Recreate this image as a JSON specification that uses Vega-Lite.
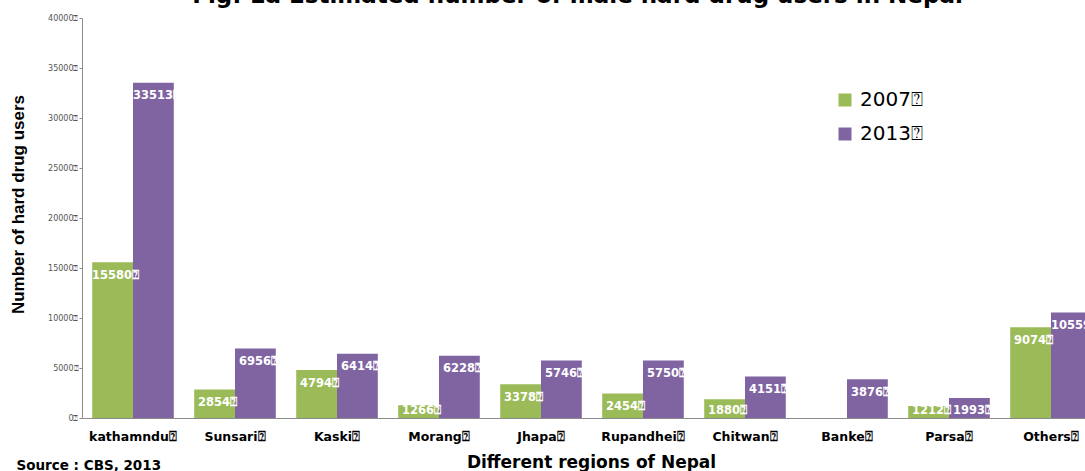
{
  "$schema": "https://vega.github.io/schema/vega-lite/v6.json",
  "autosize": {"type": "none"},
  "padding": {"left": 82, "top": 18, "right": 0, "bottom": 53},
  "width": 1003,
  "height": 400,
  "background": "white",
  "config": {"view": {"stroke": null}},
  "title": {"text": "Fig: 1a Estimated number of male hard drug users in Nepal", "frame": "group", "anchor": "middle", "baseline": "alphabetic", "offset": 8, "dy": 20, "fontSize": 23, "font": "DejaVu Sans", "fontWeight": "bold", "color": "black", "dx": -6},
  "data": {"values": [
    {"region": "kathamndu", "year": "2007", "users": 15580},
    {"region": "kathamndu", "year": "2013", "users": 33513},
    {"region": "Sunsari", "year": "2007", "users": 2854},
    {"region": "Sunsari", "year": "2013", "users": 6956},
    {"region": "Kaski", "year": "2007", "users": 4794},
    {"region": "Kaski", "year": "2013", "users": 6414},
    {"region": "Morang", "year": "2007", "users": 1266},
    {"region": "Morang", "year": "2013", "users": 6228},
    {"region": "Jhapa", "year": "2007", "users": 3378},
    {"region": "Jhapa", "year": "2013", "users": 5746},
    {"region": "Rupandhei", "year": "2007", "users": 2454},
    {"region": "Rupandhei", "year": "2013", "users": 5750},
    {"region": "Chitwan", "year": "2007", "users": 1880},
    {"region": "Chitwan", "year": "2013", "users": 4151},
    {"region": "Banke", "year": "2013", "users": 3876},
    {"region": "Parsa", "year": "2007", "users": 1212},
    {"region": "Parsa", "year": "2013", "users": 1993},
    {"region": "Others", "year": "2007", "users": 9074},
    {"region": "Others", "year": "2013", "users": 10559}
  ]},
  "transform": [
    {"calculate": "format(datum.users, 'd') + '\u2370'", "as": "label"},
    {"calculate": "max(datum.users - 1350, 700)", "as": "labelPos"}
  ],
  "resolve": {"axis": {"x": "independent"}},
  "layer": [
    {
      "mark": {"type": "bar"},
      "encoding": {
        "x": {"field": "region", "type": "nominal",
          "sort": ["kathamndu", "Sunsari", "Kaski", "Morang", "Jhapa", "Rupandhei", "Chitwan", "Banke", "Parsa", "Others"],
          "scale": {"range": [0, 1020], "paddingInner": 0.2, "paddingOuter": 0.1},
          "axis": {"title": "Different regions of Nepal", "titleFont": "DejaVu Sans", "titleFontSize": 17, "titleFontWeight": "bold", "titleColor": "black", "titleX": 509, "titleY": 49, "titleBaseline": "alphabetic",
            "labelExpr": "datum.label + '\u2370'", "labelFont": "DejaVu Sans", "labelFontSize": 12.5, "labelFontWeight": "bold", "labelColor": "black", "labelPadding": 12, "ticks": false, "domainColor": "#8c8c8c", "labelAngle": 0}},
        "xOffset": {"field": "year", "type": "nominal", "sort": ["2007", "2013"]},
        "y": {"field": "users", "type": "quantitative", "scale": {"domain": [0, 40000]},
          "axis": {"title": "Number of hard drug users", "titleFont": "Liberation Sans", "titleFontSize": 17, "titleFontWeight": "bold", "titleColor": "black", "titleX": -64, "titleY": 186, "titleBaseline": "middle",
            "values": [0, 5000, 10000, 15000, 20000, 25000, 30000, 35000, 40000], "format": "d", "labelExpr": "datum.label + '\u2370'", "labelFont": "DejaVu Sans", "labelFontSize": 8, "labelColor": "#555555", "tickColor": "#8c8c8c", "tickSize": 3, "labelPadding": 1, "domainColor": "#8c8c8c", "grid": false}},
        "color": {"field": "year", "type": "nominal",
          "scale": {"domain": ["2007", "2013"], "range": ["#9BBB59", "#8064A2"]},
          "legend": {"title": null, "orient": "none", "legendX": 753, "legendY": 72, "symbolType": "square", "symbolSize": 169, "symbolStrokeWidth": 0, "labelFont": "DejaVu Sans", "labelFontSize": 20, "labelColor": "black", "labelExpr": "datum.label + '\u2370'", "labelOffset": 5, "rowPadding": 14, "padding": 0}}
      }
    },
    {
      "mark": {"type": "text", "color": "white", "font": "DejaVu Sans", "fontWeight": "bold", "fontSize": 11.5, "align": "center", "dx": 3, "baseline": "middle"},
      "encoding": {
        "x": {"field": "region", "type": "nominal",
          "sort": ["kathamndu", "Sunsari", "Kaski", "Morang", "Jhapa", "Rupandhei", "Chitwan", "Banke", "Parsa", "Others"],
          "axis": {"orient": "bottom", "title": "Source : CBS, 2013", "labels": false, "ticks": false, "domain": false, "titleAnchor": "start", "titleAlign": "left", "titleX": -66, "titleY": 51, "titleBaseline": "alphabetic", "titleFont": "DejaVu Sans", "titleFontSize": 13.5, "titleFontWeight": "bold", "titleColor": "black"}},
        "xOffset": {"field": "year", "type": "nominal", "sort": ["2007", "2013"]},
        "y": {"field": "labelPos", "type": "quantitative"},
        "text": {"field": "label"}
      }
    }
  ]
}
